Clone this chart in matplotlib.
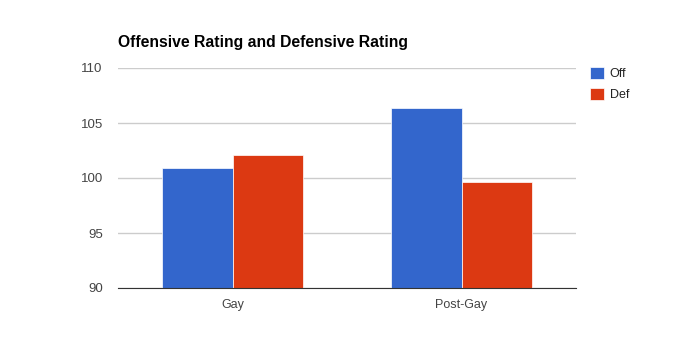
import matplotlib
matplotlib.use("Agg")
import matplotlib.pyplot as plt
import numpy as np

plt.rcParams['font.family'] = ['Liberation Sans', 'DejaVu Sans']

categories = ["Gay", "Post-Gay"]
off_vals = [100.95, 106.35]
def_vals = [102.05, 99.6]
series_names = ["Off", "Def"]
colors = ["#3366cc", "#dc3912"]

fig = plt.figure(figsize=(6.95, 3.57), dpi=100)
ax = fig.add_axes([118 / 695, 1 - 288 / 357, 458 / 695, 220 / 357])

x = np.arange(len(categories))
w = 0.3057
ax.bar(x - w / 2, off_vals, width=w, color=colors[0], edgecolor="white", linewidth=0.5, label=series_names[0], zorder=3)
ax.bar(x + w / 2, def_vals, width=w, color=colors[1], edgecolor="white", linewidth=0.5, label=series_names[1], zorder=3)

ax.set_xlim(-0.5, 1.5)
ax.set_ylim(90, 110)
ax.set_yticks([90, 95, 100, 105, 110])
ax.set_xticks(x)
ax.set_xticklabels(categories)
ax.yaxis.grid(True, color="#cccccc", linewidth=1, zorder=0)
ax.tick_params(axis="both", length=0, labelcolor="#444444")
ax.tick_params(axis="y", pad=11, labelsize=9.5)
ax.tick_params(axis="x", pad=8, labelsize=9)
for s in ["top", "right", "left"]:
    ax.spines[s].set_visible(False)
ax.spines["bottom"].set_color("#333333")
ax.spines["bottom"].set_zorder(4)

fig.text(118 / 695, 1 - 43 / 357, "Offensive Rating and Defensive Rating", fontsize=11.3,
         fontweight="bold", va="center", ha="left", color="black")

leg = fig.legend(loc="upper left", bbox_to_anchor=(590 / 695, 1 - 67 / 357), frameon=False, fontsize=9,
                 handlelength=1.08, handleheight=1.08, handletextpad=0.5, labelspacing=0.6,
                 borderaxespad=0, borderpad=0)
for t in leg.get_texts():
    t.set_color("#222222")

fig.savefig("out.png", dpi=100, facecolor="white")
